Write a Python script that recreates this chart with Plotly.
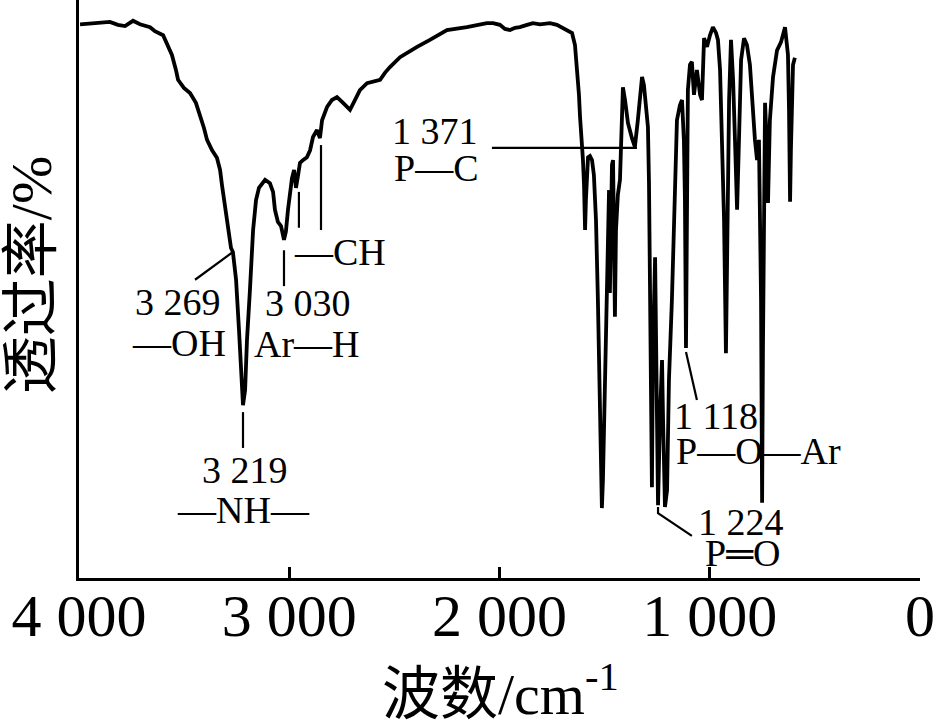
import plotly.graph_objects as go

# ---- spectrum data (wavenumber cm^-1, transmittance %) ----
wavenumber = [
    3995, 3924, 3853, 3815, 3781, 3743, 3710, 3662, 3639, 3600,
    3577, 3558, 3539, 3529, 3501, 3472, 3444, 3425, 3406, 3391,
    3367, 3344, 3329, 3320, 3306, 3291, 3277, 3268, 3253, 3239,
    3230, 3220, 3210, 3201, 3187, 3172, 3158, 3144, 3115, 3092,
    3077, 3068, 3054, 3039, 3025, 3016, 3006, 2996, 2987, 2977,
    2968, 2958, 2949, 2935, 2916, 2901, 2887, 2868, 2854, 2844,
    2820, 2797, 2773, 2744, 2711, 2687, 2664, 2630, 2592, 2568,
    2545, 2521, 2473, 2426, 2392, 2331, 2250, 2155, 2060, 2031,
    1998, 1974, 1950, 1926, 1903, 1869, 1841, 1807, 1760, 1727,
    1698, 1674, 1655, 1641, 1631, 1622, 1617, 1608, 1603, 1598,
    1593, 1589, 1579, 1570, 1560, 1551, 1541, 1532, 1522, 1517,
    1513, 1508, 1498, 1489, 1479, 1475, 1470, 1465, 1460, 1456,
    1451, 1446, 1437, 1427, 1422, 1413, 1403, 1389, 1370, 1356,
    1342, 1332, 1322, 1313, 1303, 1294, 1289, 1284, 1279, 1275,
    1270, 1260, 1256, 1251, 1246, 1237, 1227, 1222, 1213, 1203,
    1194, 1180, 1165, 1156, 1142, 1132, 1123, 1118, 1113, 1108,
    1104, 1094, 1085, 1075, 1061, 1046, 1037, 1027, 1013, 999,
    985, 970, 961, 951, 942, 932, 923, 913, 908, 899,
    889, 880, 870, 861, 851, 837, 823, 809, 794, 785,
    775, 766, 756, 751, 747, 742, 737, 728, 723, 714,
    699, 680, 661, 642, 628, 623, 618, 614, 604, 595,
]
transmittance = [
    95.8, 96.0, 96.2, 95.7, 95.5, 96.4, 95.8, 95.3, 94.6, 93.9,
    92.2, 90.5, 87.9, 86.2, 84.8, 83.9, 82.2, 80.1, 77.9, 75.8,
    74.0, 72.7, 70.6, 68.0, 64.5, 60.2, 57.1, 56.4, 51.6, 42.9,
    36.0, 29.9, 32.5, 41.2, 49.8, 60.2, 65.4, 67.5, 68.9, 68.3,
    66.8, 63.7, 61.6, 60.9, 58.5, 59.9, 63.7, 67.1, 69.2, 70.6,
    67.5, 69.7, 71.8, 72.3, 72.8, 74.0, 76.3, 77.5, 76.1, 79.2,
    81.5, 82.7, 83.2, 82.2, 81.0, 82.7, 84.4, 85.6, 86.0, 86.2,
    87.4, 88.4, 90.1, 91.2, 91.9, 93.1, 94.8, 95.3, 96.0, 96.0,
    95.7, 95.0, 94.8, 95.2, 95.3, 95.7, 96.0, 95.8, 96.0, 95.7,
    95.2, 94.8, 94.3, 92.2, 88.4, 83.6, 79.8, 75.8, 72.3, 68.0,
    60.2, 65.4, 72.8, 73.0, 72.3, 69.7, 61.9, 48.1, 30.8, 18.7,
    12.1, 17.0, 34.3, 56.7, 67.1, 49.3, 65.4, 71.5, 72.3, 56.7,
    45.2, 60.2, 66.3, 68.9, 75.8, 84.9, 82.7, 78.7, 76.1, 74.6,
    79.2, 83.6, 86.7, 85.3, 81.0, 78.0, 68.3, 55.0, 30.8, 15.7,
    39.4, 55.5, 44.6, 27.3, 12.6, 27.3, 37.7, 27.3, 12.3, 15.2,
    34.3, 48.1, 68.9, 79.2, 81.8, 82.7, 75.8, 65.4, 39.8, 56.7,
    84.4, 88.8, 89.3, 83.6, 87.9, 83.6, 82.7, 93.4, 91.9, 93.9,
    95.3, 94.3, 93.1, 87.9, 77.5, 61.9, 38.9, 65.4, 82.7, 93.1,
    86.2, 75.8, 63.7, 75.8, 89.6, 93.4, 92.2, 88.8, 79.2, 75.8,
    72.3, 75.8, 48.1, 13.0, 39.4, 68.9, 82.2, 74.0, 64.9, 79.2,
    86.7, 91.3, 92.7, 95.3, 90.5, 81.0, 65.1, 74.0, 88.8, 90.0,
]

tick_values = [4000, 3000, 2000, 1000, 0]
tick_labels = ["4 000", "3 000", "2 000", "1 000", "0"]

# peak labels: (text, x, y)
label_texts = ["3 269", "—OH", "3 219", "—NH—", "3 030", "Ar—H", "—CH",
               "1 371", "P—C", "1 118", "P—O—Ar", "1 224", "P═O"]
label_x = [3529, 3524, 3210, 3220, 2911, 2916, 2759,
           2307, 2302, 970, 766, 851, 842]
label_y = [47.8, 40.7, 18.7, 11.8, 47.6, 40.5, 56.4,
           77.3, 70.9, 28.0, 22.0, 9.7, 4.3]

# leader lines: list of polylines (x list, y list)
leaders = [
    ([3268, 3448], [56.4, 51.6]),          # OH
    ([3220, 3220], [28.7, 22.5]),          # NH
    ([3025, 3025], [56.7, 50.5]),          # Ar-H
    ([2954, 2954], [66.8, 60.6]),          # CH
    ([2849, 2849], [74.9, 60.2]),          # CH
    ([2036, 1346], [74.4, 74.4]),          # P-C
    ([1113, 1061], [39.1, 30.8]),          # P-O-Ar
    ([1246, 1246, 1085], [12.3, 11.2, 7.3]),  # P=O
]

FONT = '"Liberation Serif", "Times New Roman", "Noto Sans CJK SC", serif'

fig = go.Figure()
fig.add_trace(go.Scatter(x=wavenumber, y=transmittance, mode="lines",
                         line=dict(color="black", width=3.8),
                         showlegend=False, hoverinfo="skip"))

for lx, ly in leaders:
    fig.add_trace(go.Scatter(x=lx, y=ly, mode="lines",
                             line=dict(color="black", width=2.2),
                             showlegend=False, hoverinfo="skip"))

annotations = []
for t, x, y in zip(label_texts, label_x, label_y):
    annotations.append(dict(text=t, x=x, y=y, xref="x", yref="y",
                            showarrow=False, xanchor="center", yanchor="middle",
                            font=dict(family=FONT, size=38, color="black")))

annotations.append(dict(text="波数/cm<sup>-1</sup>", x=0.5006, y=-0.195,
                        xref="paper", yref="paper", showarrow=False,
                        xanchor="center", yanchor="middle",
                        font=dict(family=FONT, size=58, color="black")))
annotations.append(dict(text="透过率/%", x=-0.0570, y=0.524,
                        xref="paper", yref="paper", showarrow=False,
                        xanchor="center", yanchor="middle", textangle=-90,
                        font=dict(family=FONT, size=58, color="black")))

fig.update_layout(
    width=935, height=724,
    margin=dict(l=79, r=15, t=0, b=146),
    paper_bgcolor="white", plot_bgcolor="white",
    annotations=annotations,
    xaxis=dict(range=[4000, 0], tickvals=tick_values, ticktext=tick_labels,
               ticks="inside", ticklen=11, tickwidth=3, tickcolor="black",
               showline=True, linecolor="black", linewidth=3,
               showgrid=False, zeroline=False, automargin=False,
               ticklabelstandoff=-17,
               tickfont=dict(family=FONT, size=60, color="black")),
    yaxis=dict(range=[0, 100], showticklabels=False, ticks="",
               showline=True, linecolor="black", linewidth=3,
               showgrid=False, zeroline=False, automargin=False),
)

fig.write_html("out.html",
               config={"displayModeBar": False},
               post_script="document.body.style.margin='0px';")
